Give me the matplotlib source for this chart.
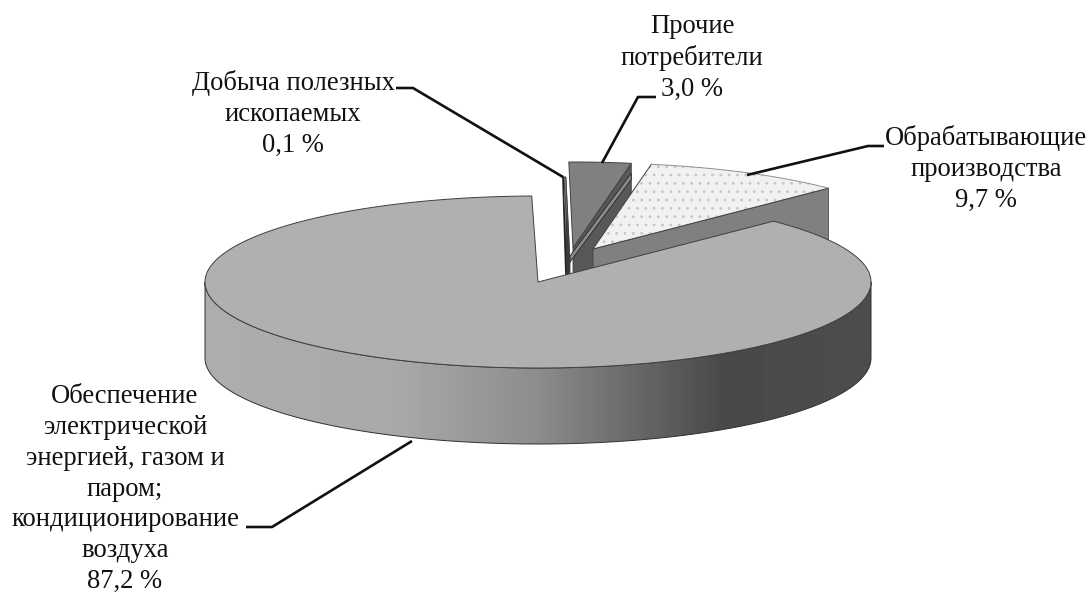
import numpy as np
import matplotlib
matplotlib.use("Agg")
import matplotlib.pyplot as plt

# shares in percent, counterclockwise from the start angle
shares = [9.7, 3.0, 0.1, 87.2]
share_labels = ["9,7 %", "3,0 %", "0,1 %", "87,2 %"]
names = [
    "Обрабатывающие\nпроизводства",
    "Прочие\nпотребители",
    "Добыча полезных\nископаемых",
    "Обеспечение\nэлектрической\nэнергией, газом и\nпаром;\nкондиционирование\nвоздуха",
]
centers_x = [593, 573, 570, 538]
centers_y = [249, 248, 263, 282]
top_colors = ["#f1f1f1", "#808080", "#8c8c8c", "#b0b0b0"]
cut_colors = ["#808080", "#585858", "#3a3a3a", "#b0b0b0"]
label_x = [986, 692, 293, 125]
label_y = [169, 58, 114, 489]
leaders_x = [[747, 868, 884], [602, 638, 656], [563, 413, 396], [412, 272, 246]]
leaders_y = [[175, 146, 146], [163, 97, 97], [177, 88, 88], [441, 527, 527]]

start_angle = 45
rx, ry, depth = 333, 86, 76

plt.rcParams["font.family"] = ["Liberation Serif", "DejaVu Serif"]
plt.rcParams["hatch.linewidth"] = 0.8

fig = plt.figure(figsize=(10.92, 5.92), dpi=100)
ax = fig.add_axes([0, 0, 1, 1])
ax.set_xlim(0, 1092)
ax.set_ylim(592, 0)
ax.axis("off")


def rim(cx, cy, a, b, n=200):
    t = np.radians(np.linspace(a, b, n))
    return cx + rx * np.cos(t), cy - ry * np.sin(t)


edges = start_angle + np.concatenate([[0], np.cumsum(shares)]) * 3.6
line = "#404040"

# back slices first, the big one goes on top
for i in [2, 1, 0]:
    cx, cy = centers_x[i], centers_y[i]
    a, b = edges[i], edges[i + 1]
    rim_x, rim_y = rim(cx, cy, a, b, 30)
    base = 3 * (3 - i)
    # cut face on the right side of the slice
    ax.fill([cx, rim_x[0], rim_x[0], cx], [cy, rim_y[0], rim_y[0] + depth, cy + depth],
            color=cut_colors[i], ec=line, lw=0.6, zorder=base)
    if i == 1:
        # lighter strip seen under the top of this slice
        ax.fill([cx - 3, rim_x[0], rim_x[0], cx - 3],
                [cy + 8, rim_y[0] + 10, rim_y[0] + 16, cy + 14],
                color="#8c8c8c", ec="#303030", lw=0.7, zorder=base + 0.5)
    hatch = ".." if i == 0 else None
    ax.fill(np.r_[cx, rim_x], np.r_[cy, rim_y], facecolor=top_colors[i],
            edgecolor="#c6c6c6" if i == 0 else line, hatch=hatch, lw=0 if i == 0 else 0.7,
            zorder=base + 1)
    if i == 0:
        ax.plot(np.r_[rim_x[-1], cx, rim_x[0]], np.r_[rim_y[-1], cy, rim_y[0]], color=line, lw=0.7, zorder=base + 2)
        ax.plot(rim_x, rim_y, color="#909090", lw=0.7, zorder=base + 2)
        # outer wall at the right edge stays behind the main slice
        ax.plot([rim_x[0], rim_x[0]], [rim_y[0], rim_y[0] + depth], color="#606060", lw=0.7, zorder=base + 2)

# main slice: outer wall with gradient, then the top
cx, cy = centers_x[3], centers_y[3]
a, b = edges[3], edges[4]
wall_x, wall_y = rim(cx, cy, 180, 360)
wall = ax.fill(np.r_[wall_x, wall_x[::-1]], np.r_[wall_y, wall_y[::-1] + depth],
               color="none", ec="#303030", lw=0.7, zorder=21)[0]
stops_x = [205, 400, 537, 640, 720, 870]
stops_v = [0.68, 0.66, 0.55, 0.40, 0.29, 0.30]
grad_x = np.arange(205, 871)
grad = np.interp(grad_x, stops_x, stops_v)[None, :]
im = ax.imshow(grad, cmap="gray", vmin=0, vmax=1, extent=(205, 871, 450, 270),
               aspect="auto", zorder=20)
im.set_clip_path(wall)
ax.set_xlim(0, 1092)
ax.set_ylim(592, 0)

rim_x, rim_y = rim(cx, cy, a, b, 400)
ax.fill(np.r_[cx, rim_x], np.r_[cy, rim_y], color=top_colors[3], ec="#404040", lw=0.7, zorder=22)

# leaders and labels
for i in range(4):
    ax.plot(leaders_x[i], leaders_y[i], color="#111111", lw=1.9, zorder=23, solid_capstyle="butt")
    ax.text(label_x[i], label_y[i], names[i] + "\n" + share_labels[i], ha="center", va="center",
            fontsize=19.2, linespacing=1.3, color="#111111", zorder=24)
# dark edge of the thin slice
ax.plot([563, 566], [177, 274], color="#222222", lw=1.3, zorder=19)

fig.savefig("out.png", dpi=100, facecolor="white")
